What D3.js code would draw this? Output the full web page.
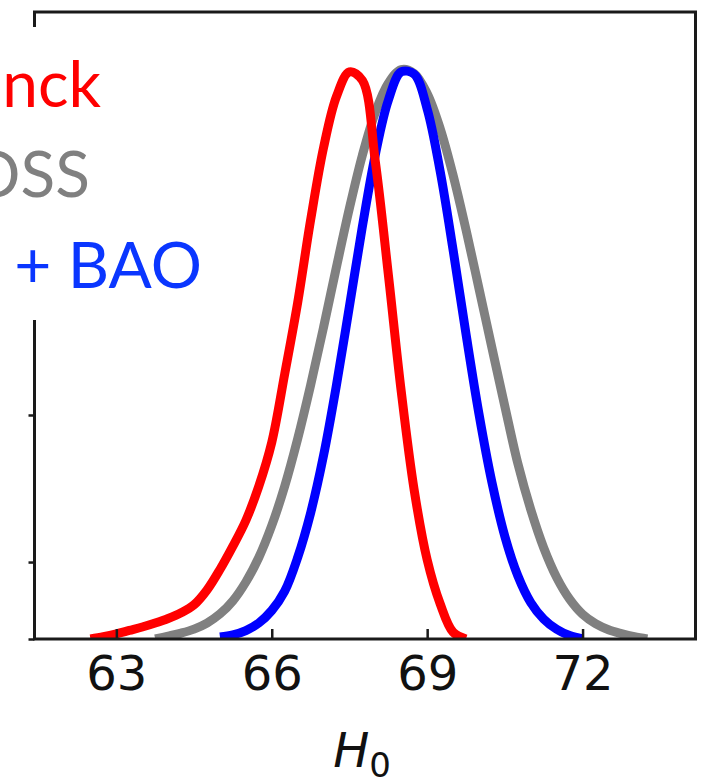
<!DOCTYPE html>
<html>
<head>
<meta charset="utf-8">
<script src="https://cdn.jsdelivr.net/npm/d3@7"></script>
<style>
  html, body { margin: 0; padding: 0; background: #fff; }
  svg { display: block; }
</style>
</head>
<body>
<svg id="chart" width="706" height="778"></svg>
<script>
// H0 grid (km/s/Mpc) shared by the three marginalised posteriors
const h0Grid = [62.25, 62.5, 62.75, 63, 63.25, 63.5, 63.75, 64, 64.25, 64.5, 64.75,
  65, 65.25, 65.5, 65.75, 66, 66.25, 66.5, 66.75, 67, 67.25, 67.5, 67.75,
  68, 68.25, 68.5, 68.75, 69, 69.25, 69.5, 69.75, 70, 70.25, 70.5, 70.75,
  71, 71.25, 71.5, 71.75, 72, 72.25, 72.5, 72.75, 73, 73.25, 73.5, 73.75];

// normalised posterior P/Pmax; null where the curve is not drawn
const planck = [null, 0, 0.004, 0.009, 0.015, 0.021, 0.028, 0.036, 0.046, 0.06, 0.086,
  0.122, 0.163, 0.208, 0.268, 0.345, 0.465, 0.59, 0.735, 0.862, 0.952, 0.995, 0.98,
  0.837, 0.64, 0.434, 0.261, 0.139, 0.062, 0.012, 0,
  null, null, null, null, null, null, null, null, null, null, null, null, null, null, null, null];

const boss = [null, null, null, null, null, null, 0, 0.005, 0.0104, 0.0174, 0.028,
  0.044, 0.067, 0.100, 0.143, 0.199, 0.268, 0.351, 0.445, 0.547, 0.653, 0.756, 0.849,
  0.924, 0.975, 0.999, 0.992, 0.957, 0.896, 0.814, 0.718, 0.615, 0.511, 0.408, 0.308,
  0.227, 0.160, 0.108, 0.070, 0.0435, 0.027, 0.0163, 0.0095, 0.004, 0, null, null];

const bossBao = [null, null, null, null, null, null, null, null, null, null, null,
  0.0034, 0.0072, 0.0147, 0.028, 0.05, 0.084, 0.143, 0.221, 0.322, 0.446, 0.584, 0.724,
  0.850, 0.945, 0.995, 0.991, 0.930, 0.821, 0.683, 0.535, 0.395, 0.275, 0.180, 0.111,
  0.064, 0.035, 0.017, 0.006, 0, null, null, null, null, null, null, null];

const seriesNames = ["Planck", "BOSS", "BOSS + BAO"];
const lineColors = ["#ff0000", "#808080", "#0000ff"];
const labelColors = ["#ff0000", "#808080", "#0a36ff"];
const xTicks = [63, 66, 69, 72];
const yTicks = [0, 0.135, 0.393, 0.651, 0.909];
const xDomain = [61.42, 74.18];
const yDomain = [0, 1.1];

const svg = d3.select("#chart");
const plot = { left: 34.5, right: 695.5, top: 12, bottom: 639 };

const x = d3.scaleLinear().domain(xDomain).range([plot.left, plot.right]);
const y = d3.scaleLinear().domain(yDomain).range([plot.bottom, plot.top]);

svg.append("defs").append("clipPath").attr("id", "plot-area")
  .append("rect")
  .attr("x", plot.left).attr("y", plot.top)
  .attr("width", plot.right - plot.left).attr("height", plot.bottom - plot.top);

const line = d3.line()
  .defined(d => d[1] != null)
  .x(d => x(d[0]))
  .y(d => y(d[1]))
  .curve(d3.curveCatmullRom.alpha(0.5));

const series = [planck, boss, bossBao].map((vals, i) => ({
  name: seriesNames[i],
  color: lineColors[i],
  points: h0Grid.map((h, j) => [h, vals[j]])
}));

// draw order: grey underneath, then blue, red on top
const drawOrder = [1, 2, 0];
svg.append("g").attr("clip-path", "url(#plot-area)")
  .selectAll("path")
  .data(drawOrder.map(i => series[i]))
  .join("path")
  .attr("d", d => line(d.points))
  .attr("fill", "none")
  .attr("stroke", d => d.color)
  .attr("stroke-width", 9)
  .attr("stroke-linejoin", "round");

// x axis ticks (inward) and labels
const xAxis = svg.append("g")
  .attr("transform", `translate(0,${plot.bottom})`)
  .call(d3.axisBottom(x).tickValues(xTicks).tickSize(-10).tickPadding(17).tickFormat(d3.format("d")));
xAxis.select(".domain").remove();
xAxis.selectAll(".tick line").attr("stroke", "#1a1a1a").attr("stroke-width", 2.5);
xAxis.selectAll(".tick text")
  .attr("fill", "#111")
  .style("font-family", "'DejaVu Sans', sans-serif")
  .style("font-size", "48px");

// y axis ticks (outward, unlabelled)
const yAxis = svg.append("g")
  .attr("transform", `translate(${plot.left},0)`)
  .call(d3.axisLeft(y).tickValues(yTicks).tickSize(6).tickFormat(""));
yAxis.select(".domain").remove();
yAxis.selectAll(".tick line").attr("stroke", "#1a1a1a").attr("stroke-width", 2.5);

// frame
svg.append("rect")
  .attr("x", plot.left).attr("y", plot.top)
  .attr("width", plot.right - plot.left).attr("height", plot.bottom - plot.top)
  .attr("fill", "none")
  .attr("stroke", "#1a1a1a")
  .attr("stroke-width", 3);

// x axis title
const title = svg.append("text")
  .attr("x", (plot.left + plot.right) / 2 - 3)
  .attr("y", 767)
  .attr("text-anchor", "middle")
  .attr("fill", "#111")
  .style("font-family", "'DejaVu Sans', sans-serif")
  .style("font-size", "48px");
title.append("tspan").style("font-style", "italic").text("H");
title.append("tspan").attr("dy", 10).style("font-size", "34px").text("0");

// legend: white panel with coloured labels
svg.append("rect")
  .attr("x", 0).attr("y", 27)
  .attr("width", 215).attr("height", 293)
  .attr("fill", "#fff");

const legendAnchors = [[101, 107], [90, 197], [202, 288]];
svg.append("g")
  .selectAll("text")
  .data(series)
  .join("text")
  .attr("x", (d, i) => legendAnchors[i][0])
  .attr("y", (d, i) => legendAnchors[i][1])
  .attr("text-anchor", "end")
  .attr("fill", (d, i) => labelColors[i])
  .style("font-family", "Lato, 'Open Sans', sans-serif")
  .style("font-size", "64px")
  .text(d => d.name);
</script>
</body>
</html>
